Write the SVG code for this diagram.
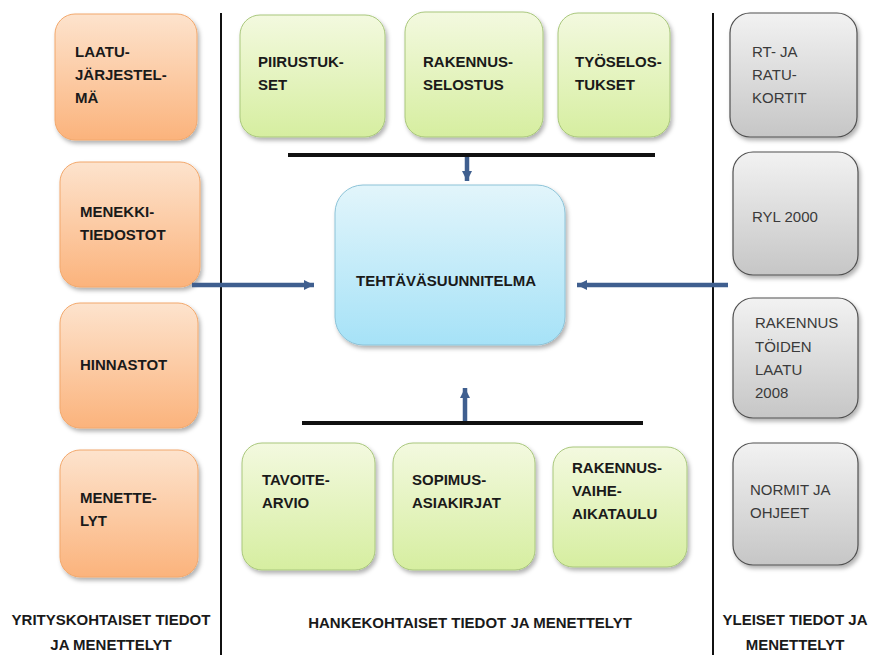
<svg xmlns="http://www.w3.org/2000/svg" width="869" height="655" viewBox="0 0 869 655">
<defs>
<linearGradient id="gOr" x1="0" y1="0" x2="0" y2="1"><stop offset="0" stop-color="#fde3cd"/><stop offset="1" stop-color="#fbb37c"/></linearGradient>
<linearGradient id="gGr" x1="0" y1="0" x2="0" y2="1"><stop offset="0" stop-color="#f3f9df"/><stop offset="1" stop-color="#d6eea0"/></linearGradient>
<linearGradient id="gBl" x1="0" y1="0" x2="0" y2="1"><stop offset="0" stop-color="#e2f5fb"/><stop offset="1" stop-color="#a6e2f7"/></linearGradient>
<linearGradient id="gGy" x1="0" y1="0" x2="0" y2="1"><stop offset="0" stop-color="#f2f2f2"/><stop offset="1" stop-color="#c6c6c6"/></linearGradient>
<filter id="sh" x="-10%" y="-10%" width="125%" height="125%"><feDropShadow dx="2" dy="3" stdDeviation="2" flood-color="#000" flood-opacity="0.3"/></filter>
<marker id="ah" markerUnits="userSpaceOnUse" markerWidth="12" markerHeight="12" viewBox="0 0 12 12" refX="10" refY="6" orient="auto"><path d="M0,1 L10,6 L0,11 Z" fill="#3f5f8f"/></marker>
<style>
.or{fill:url(#gOr);stroke:#f2a86c;stroke-width:1;filter:url(#sh)}
.gr{fill:url(#gGr);stroke:#a9c77c;stroke-width:1;filter:url(#sh)}
.bl{fill:url(#gBl);stroke:#8cc3d8;stroke-width:1;filter:url(#sh)}
.gy{fill:url(#gGy);stroke:#505050;stroke-width:1.2;filter:url(#sh)}
text{font-family:"Liberation Sans",Arial,sans-serif;font-size:15px;font-weight:bold;fill:#1a1a1a}
.gt{fill:#3a3a3a;font-weight:normal}
.c{text-anchor:middle}
.arr{stroke:#3f5f8f;stroke-width:4.5;fill:none;marker-end:url(#ah)}
.bar{stroke:#111;stroke-width:4}
.div{stroke:#111;stroke-width:2}
</style>
</defs>
<rect width="869" height="655" fill="#fff"/>
<g id="dividers">
<line class="div" x1="221" y1="13" x2="221" y2="655"/>
<line class="div" x1="713" y1="13" x2="713" y2="655"/>
</g>
<g id="n-laatu"><rect class="or" x="55" y="14" width="142" height="126" rx="20"/><text x="75" y="57">LAATU-</text><text x="75" y="80">JÄRJESTEL-</text><text x="75" y="103">MÄ</text></g>
<g id="n-menekki"><rect class="or" x="60" y="162" width="140" height="125" rx="20"/><text x="80" y="217">MENEKKI-</text><text x="80" y="240">TIEDOSTOT</text></g>
<g id="n-hinnastot"><rect class="or" x="60" y="303" width="138" height="125" rx="20"/><text x="80" y="370">HINNASTOT</text></g>
<g id="n-menettelyt"><rect class="or" x="60" y="450" width="138" height="127" rx="20"/><text x="80" y="503">MENETTE-</text><text x="80" y="526">LYT</text></g>
<g id="n-piirustukset"><rect class="gr" x="240" y="15" width="145" height="122" rx="20"/><text x="258" y="67">PIIRUSTUK-</text><text x="258" y="90">SET</text></g>
<g id="n-rakselostus"><rect class="gr" x="405" y="12" width="138" height="125" rx="20"/><text x="423" y="67">RAKENNUS-</text><text x="423" y="90">SELOSTUS</text></g>
<g id="n-tyoselostukset"><rect class="gr" x="558" y="13" width="112" height="124" rx="20"/><text x="575" y="67">TYÖSELOS-</text><text x="575" y="90">TUKSET</text></g>
<g id="n-tehtava"><rect class="bl" x="335" y="185" width="230" height="160" rx="28"/><text class="c" x="446" y="286">TEHTÄVÄSUUNNITELMA</text></g>
<g id="n-tavoite"><rect class="gr" x="242" y="443" width="133" height="127" rx="20"/><text x="262" y="485">TAVOITE-</text><text x="262" y="508">ARVIO</text></g>
<g id="n-sopimus"><rect class="gr" x="393" y="443" width="142" height="127" rx="20"/><text x="412" y="485">SOPIMUS-</text><text x="412" y="508">ASIAKIRJAT</text></g>
<g id="n-vaihe"><rect class="gr" x="553" y="447" width="134" height="120" rx="20"/><text x="572" y="473">RAKENNUS-</text><text x="572" y="496">VAIHE-</text><text x="572" y="519">AIKATAULU</text></g>
<g id="n-rt"><rect class="gy" x="730" y="13" width="127" height="124" rx="20"/><text class="gt" x="752" y="57">RT- JA</text><text class="gt" x="752" y="80">RATU-</text><text class="gt" x="752" y="103">KORTIT</text></g>
<g id="n-ryl"><rect class="gy" x="733" y="152" width="125" height="123" rx="20"/><text class="gt" x="752" y="222">RYL 2000</text></g>
<g id="n-laatu2008"><rect class="gy" x="733" y="298" width="125" height="120" rx="20"/><text class="gt" x="755" y="328">RAKENNUS</text><text class="gt" x="755" y="352">TÖIDEN</text><text class="gt" x="755" y="375">LAATU</text><text class="gt" x="755" y="398">2008</text></g>
<g id="n-normit"><rect class="gy" x="733" y="443" width="125" height="122" rx="20"/><text class="gt" x="750" y="495">NORMIT JA</text><text class="gt" x="750" y="518">OHJEET</text></g>
<g id="connectors">
<line class="bar" x1="288" y1="155" x2="655" y2="155"/>
<line class="bar" x1="302" y1="423" x2="643" y2="423"/>
<line class="arr" x1="467" y1="157" x2="467" y2="181"/>
<line class="arr" x1="465" y1="421" x2="465" y2="388"/>
<line class="arr" x1="192" y1="285" x2="314" y2="285"/>
<line class="arr" x1="728" y1="285" x2="577" y2="285"/>
</g>
<g id="labels">
<text class="c" x="111" y="625">YRITYSKOHTAISET TIEDOT</text>
<text class="c" x="111" y="650">JA MENETTELYT</text>
<text class="c" x="470" y="628">HANKEKOHTAISET TIEDOT JA MENETTELYT</text>
<text class="c" x="795" y="625">YLEISET TIEDOT JA</text>
<text class="c" x="795" y="650">MENETTELYT</text>
</g>
</svg>
